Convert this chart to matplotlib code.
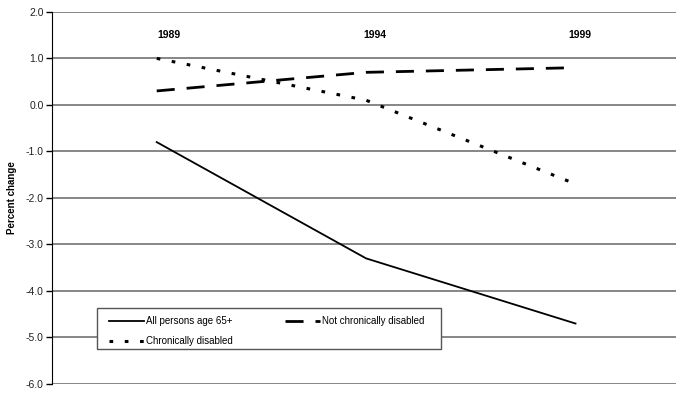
import matplotlib
matplotlib.use("Agg")
import matplotlib.pyplot as plt
from matplotlib.patches import Rectangle

years = ["1989", "1994", "1999"]
all_persons = [-0.8, -3.3, -4.7]
not_chronic = [0.3, 0.7, 0.8]
chronic = [1.0, 0.1, -1.7]
yticks = [2.0, 1.0, 0.0, -1.0, -2.0, -3.0, -4.0, -5.0, -6.0]

plt.rcParams['font.family'] = ['Liberation Sans', 'DejaVu Sans']

fig = plt.figure(figsize=(6.88, 3.98), dpi=100)
ax = fig.add_axes([0.0756, 0.0352, 0.907, 0.935])

x = list(range(len(years)))
l1, = ax.plot(x, all_persons, color='black', lw=1.3, linestyle='-', label='All persons age 65+')
l3, = ax.plot(x, chronic, color='black', lw=2.2, linestyle=(0, (1.2, 3.8)), label='Chronically disabled')
l2, = ax.plot(x, not_chronic, color='black', lw=2.0, linestyle=(0, (6.5, 4.3)), label='Not chronically disabled')

ax.set_xlim(-0.5, 2.48)
ax.set_ylim(-6.0, 2.0)
ax.set_yticks(yticks)
ax.set_yticklabels([f"{v:.1f}" for v in yticks], fontsize=7.5, color='#222222')
ax.set_xticks([])
ax.tick_params(axis='y', direction='out', length=4, width=1, pad=2)
ax.yaxis.grid(True, color='#666666', lw=1.1)
ax.set_axisbelow(True)
for s in ['top', 'right', 'bottom']:
    ax.spines[s].set_visible(False)
ax.spines['left'].set_color('black')

ax.set_ylabel('Percent change', fontsize=7, fontweight='bold', labelpad=6)

for i, yr in enumerate(years):
    ax.text(i + 0.06 - 0.02 * i, 1.5, yr, ha='center', va='center', fontsize=7.5, fontweight='bold')

# legend frame drawn separately
frame = Rectangle((0.072, 0.094), 0.551, 0.110, transform=ax.transAxes,
                  facecolor='white', edgecolor='#555555', lw=1.0, zorder=4)
ax.add_patch(frame)

leg = ax.legend(handles=[l1, l3, l2], ncol=2, loc='upper left',
                bbox_to_anchor=(0.092, 0.182), fontsize=7, frameon=False,
                handlelength=3.6, handletextpad=0.2, borderpad=0, labelspacing=1.0,
                columnspacing=5.3, borderaxespad=0)
leg.set_zorder(5)

fig.savefig('out.png', dpi=100)
